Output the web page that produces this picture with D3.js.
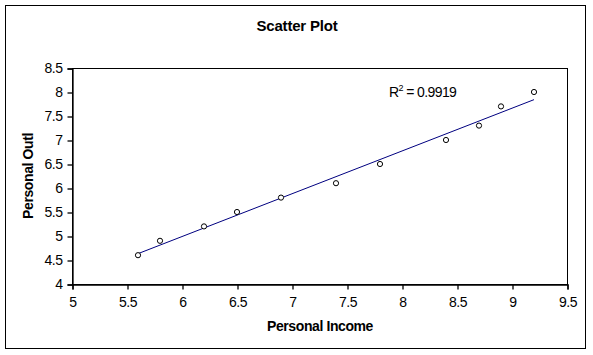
<!DOCTYPE html>
<html>
<head>
<meta charset="utf-8">
<script src="https://cdn.jsdelivr.net/npm/d3@7"></script>
<style>
  body { margin: 0; background: #fff; }
  text { font-family: "Liberation Sans", Arial, sans-serif; }
</style>
</head>
<body>
<div id="chart"></div>
<script>
// data
let income = [5.6, 5.8, 6.2, 6.5, 6.9, 7.4, 7.8, 8.4, 8.7, 8.9, 9.2];
let outlay = [4.6, 4.9, 5.2, 5.5, 5.8, 6.1, 6.5, 7.0, 7.3, 7.7, 8.0];
let xTicks = [5, 5.5, 6, 6.5, 7, 7.5, 8, 8.5, 9, 9.5];
let yTicks = [4, 4.5, 5, 5.5, 6, 6.5, 7, 7.5, 8, 8.5];
let r2Text = "0.9919";

let width = 593, height = 355;
let margin = { left: 72, right: 26, top: 68, bottom: 71 };
let chart_width = width - margin.left - margin.right;
let chart_height = height - margin.top - margin.bottom;

let svg = d3.select("#chart").append("svg")
  .attr("width", width)
  .attr("height", height);

// outer chart border
svg.append("rect")
  .attr("x", 5.5).attr("y", 5.5)
  .attr("width", 580).attr("height", 343)
  .attr("fill", "white").attr("stroke", "black").attr("stroke-width", 1);

svg.append("text")
  .attr("x", 297).attr("y", 31)
  .attr("text-anchor", "middle")
  .attr("font-size", 15).attr("font-weight", "bold")
  .attr("letter-spacing", -0.2)
  .text("Scatter Plot");

let g = svg.append("g")
  .attr("transform", `translate(${margin.left},${margin.top})`);

let x = d3.scaleLinear().domain([5, 9.5]).range([0, chart_width]);
let y = d3.scaleLinear().domain([4, 8.5]).range([chart_height, 0]);

// plot area box
g.append("rect")
  .attr("x", 0.5).attr("y", 0.5)
  .attr("width", chart_width).attr("height", chart_height)
  .attr("fill", "none").attr("stroke", "black");

let xAxis = g.append("g")
  .attr("transform", `translate(0.5,${chart_height + 0.5})`)
  .call(d3.axisBottom(x).tickValues(xTicks).tickSize(5).tickPadding(8).tickFormat(d3.format("")));
let yAxis = g.append("g")
  .attr("transform", "translate(0.5,0.5)")
  .call(d3.axisLeft(y).tickValues(yTicks).tickSize(5).tickPadding(5).tickFormat(d3.format("")));

[xAxis, yAxis].forEach(a => {
  a.select(".domain").attr("stroke", "black").attr("stroke-width", 1.3);
  a.selectAll(".tick line").attr("stroke", "black").attr("stroke-width", 1.3);
  a.selectAll(".tick text")
    .attr("fill", "black")
    .attr("font-size", 14)
    .attr("letter-spacing", -0.5)
    .style("font-family", "'Liberation Sans', Arial, sans-serif");
});

// linear trendline from least squares
let mx = d3.mean(income), my = d3.mean(outlay);
let sxy = d3.sum(income, (v, i) => (v - mx) * (outlay[i] - my));
let sxx = d3.sum(income, v => (v - mx) * (v - mx));
let slope = sxy / sxx;
let icpt = my - slope * mx;
let xr = d3.extent(income);

g.append("line")
  .attr("x1", x(xr[0])).attr("y1", y(icpt + slope * xr[0]))
  .attr("x2", x(xr[1])).attr("y2", y(icpt + slope * xr[1]))
  .attr("stroke", "#000080").attr("stroke-width", 1);

g.selectAll("circle.pt")
  .data(income)
  .enter()
  .append("circle")
  .attr("class", "pt")
  .attr("cx", d => x(d))
  .attr("cy", (d, i) => y(outlay[i]))
  .attr("r", 2.6)
  .attr("fill", "white")
  .attr("stroke", "black")
  .attr("stroke-width", 1);

// R squared label
let r2 = svg.append("text")
  .attr("x", 389).attr("y", 97)
  .attr("font-size", 14)
  .attr("letter-spacing", -0.6);
r2.append("tspan").text("R");
r2.append("tspan").attr("font-size", 9).attr("dy", -6).text("2");
r2.append("tspan").attr("dy", 6).text(" = " + r2Text);

// axis titles
svg.append("text")
  .attr("x", 320).attr("y", 331)
  .attr("text-anchor", "middle")
  .attr("font-size", 14).attr("font-weight", "bold")
  .attr("letter-spacing", -0.4)
  .text("Personal Income");

svg.append("text")
  .attr("transform", "translate(33,176) rotate(-90)")
  .attr("text-anchor", "middle")
  .attr("font-size", 14).attr("font-weight", "bold")
  .attr("letter-spacing", -0.4)
  .text("Personal Outl");
</script>
</body>
</html>
